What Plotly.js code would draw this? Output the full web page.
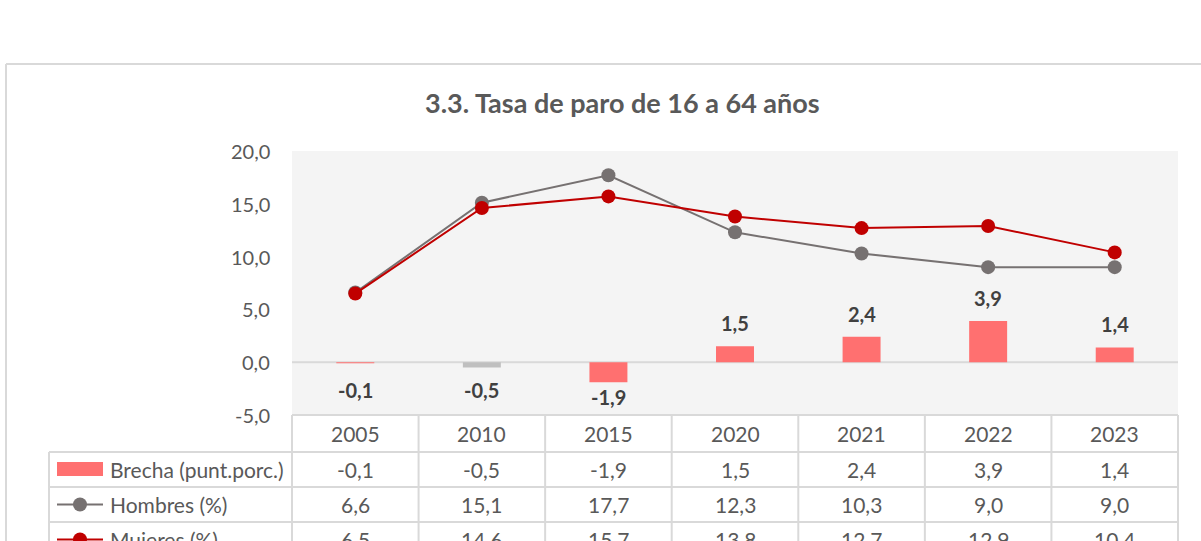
<!DOCTYPE html>
<html><head><meta charset="utf-8">
<script src="https://cdn.plot.ly/plotly-3.0.1.min.js"></script>
<style>body{margin:0;background:#fff}#c{width:1201px;height:541px}</style>
</head><body><div id="c"></div>
<script>
const years = ["2005","2010","2015","2020","2021","2022","2023"];
const brecha = [-0.1,-0.5,-1.9,1.5,2.4,3.9,1.4];
const hombres = [6.6,15.1,17.7,12.3,10.3,9.0,9.0];
const mujeres = [6.5,14.6,15.7,13.8,12.7,12.9,10.4];
const seriesNames = ["Brecha (punt.porc.)","Hombres (%)","Mujeres (%)"];
const yTicks = [-5,0,5,10,15,20];

const fmt = v => v.toFixed(1).replace('.', ',');
const L=292, R=1178, T=151, B=415, W=1201, H=541;
const px = p => (p-L)/(R-L);
const py = p => (B-p)/(B-T);
const colW = (R-L)/years.length;
const colX = i => px(L + (i+0.5)*colW);
const GRID = '#d9d9d9';
const TXT = '#595959';
const FONT = 'Lato, "Open Sans", sans-serif';

const barColors = brecha.map((v,i)=> i===1 ? '#bfbfbf' : '#ff7070');

const traces = [
  {type:'bar', x:years, y:brecha, name:seriesNames[0], marker:{color:barColors}, width:0.3, hoverinfo:'skip'},
  {type:'scatter', mode:'lines+markers', x:years, y:hombres, name:seriesNames[1], line:{color:'#767171', width:2}, marker:{color:'#767171', size:14}},
  {type:'scatter', mode:'lines+markers', x:years, y:mujeres, name:seriesNames[2], line:{color:'#c00000', width:2}, marker:{color:'#c00000', size:14}}
];

const annotations = [];
const shapes = [];
// bar value labels (negative labels kept clear of the zero line)
const minNegAnchor = -13 * 25 / (B - T);
brecha.forEach((v,i)=>{
  const pos = v >= 0;
  annotations.push({x:colX(i), y: pos ? v : Math.min(v, minNegAnchor), xref:'paper', yref:'y', text:'<b>'+fmt(v)+'</b>', showarrow:false,
    xanchor:'center', yanchor:'middle', yshift: pos ? 23 : -15, font:{family:FONT, size:20, color:'#404040'}});
});
// y tick labels
yTicks.forEach(t=>{
  annotations.push({x:px(272), y:(t+5)/25, xref:'paper', yref:'paper', text:fmt(t), showarrow:false,
    xanchor:'right', yanchor:'middle', font:{family:FONT, size:20, color:TXT}});
});
// table rows
const rowCenters = [433.5, 469.5, 504.5, 539.5];
const rowData = [brecha, hombres, mujeres];
years.forEach((y,i)=>{
  annotations.push({x:colX(i), y:py(rowCenters[0]), xref:'paper', yref:'paper', text:y, showarrow:false,
    xanchor:'center', yanchor:'middle', font:{family:FONT, size:21, color:TXT}});
  rowData.forEach((arr,r)=>{
    annotations.push({x:colX(i), y:py(rowCenters[r+1]), xref:'paper', yref:'paper', text:fmt(arr[i]), showarrow:false,
      xanchor:'center', yanchor:'middle', font:{family:FONT, size:21, color:TXT}});
  });
});
seriesNames.forEach((n,r)=>{
  annotations.push({x:px(108), y:py(rowCenters[r+1]), xref:'paper', yref:'paper', text:n, showarrow:false,
    xanchor:'left', yanchor:'middle', font:{family:FONT, size:21, color:TXT}});
});
// title
annotations.push({x:px(622), y:py(103), xref:'paper', yref:'paper', text:'<b>3.3. Tasa de paro de 16 a 64 años</b>',
  showarrow:false, xanchor:'center', yanchor:'middle', font:{family:FONT, size:27, color:TXT}});

// table grid
const lineS = (x0,y0,x1,y1,w,c)=>({type:'line', xref:'paper', yref:'paper', x0:px(x0), y0:py(y0), x1:px(x1), y1:py(y1), line:{color:c||GRID, width:w||2}});
shapes.push(lineS(L, 415, R, 415));
shapes.push(lineS(49, 452, R, 452));
shapes.push(lineS(49, 487, R, 487));
shapes.push(lineS(49, 522, R, 522));
for (let k=0;k<=years.length;k++){
  const xp = L + k*colW;
  shapes.push(lineS(xp, 415, xp, 560));
}
shapes.push(lineS(49, 452, 49, 560));
// outer frame
shapes.push(lineS(6, 64, 1205, 64));
shapes.push(lineS(6, 64, 6, 560));
// zero line
shapes.push({type:'line', xref:'paper', yref:'y', x0:0, x1:1, y0:0, y1:0, line:{color:GRID, width:2}, layer:'below'});
// legend keys
shapes.push({type:'rect', xref:'paper', yref:'paper', x0:px(57), x1:px(103), y0:py(462), y1:py(476), fillcolor:'#ff7070', line:{width:0}});
shapes.push(lineS(57, 504.5, 103, 504.5, 2, '#767171'));
shapes.push({type:'circle', xref:'paper', yref:'paper', x0:px(73), x1:px(87), y0:py(497.5), y1:py(511.5), fillcolor:'#767171', line:{width:0}});
shapes.push(lineS(57, 539.5, 103, 539.5, 2, '#c00000'));
shapes.push({type:'circle', xref:'paper', yref:'paper', x0:px(73), x1:px(87), y0:py(532.5), y1:py(546.5), fillcolor:'#c00000', line:{width:0}});

const layout = {
  width:W, height:H,
  margin:{l:L, r:W-R, t:T, b:H-B, pad:0},
  paper_bgcolor:'#ffffff', plot_bgcolor:'#f4f4f4',
  showlegend:false,
  xaxis:{type:'category', range:[-0.5,6.5], showticklabels:false, showgrid:false, zeroline:false, showline:false, ticks:'', fixedrange:true},
  yaxis:{range:[-5,20], showticklabels:false, showgrid:false, zeroline:false, showline:false, ticks:'', fixedrange:true},
  annotations, shapes
};
Plotly.newPlot('c', traces, layout, {displayModeBar:false, staticPlot:true});
</script></body></html>
